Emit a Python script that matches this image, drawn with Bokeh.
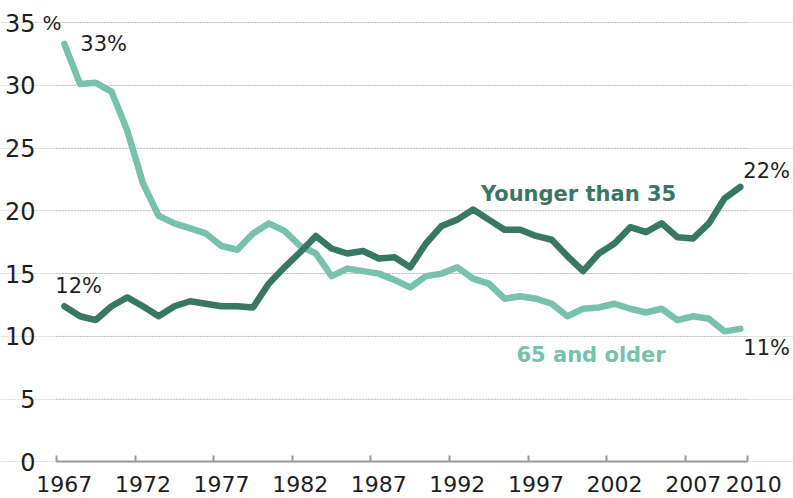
from bokeh.plotting import figure
from bokeh.models import (Range1d, FixedTicker, CustomJSTickFormatter, Label, LabelSet,
                          ColumnDataSource)
from bokeh.core.properties import value
from bokeh.embed import file_html
from bokeh.resources import INLINE

# ---- data ----
years = list(range(1967, 2011))
younger = [12.4, 11.6, 11.3, 12.4, 13.1, 12.4, 11.6, 12.4, 12.8, 12.6, 12.4, 12.4, 12.3,
           14.2, 15.5, 16.7, 18.0, 17.0, 16.6, 16.8, 16.2, 16.3, 15.5,
           17.4, 18.8, 19.3, 20.1, 19.3, 18.5, 18.5, 18.0, 17.7, 16.4,
           15.2, 16.6, 17.4, 18.7, 18.3, 19.0, 17.9, 17.8, 19.0, 21.0, 21.9]
older = [33.3, 30.1, 30.2, 29.5, 26.4, 22.2, 19.6, 19.0, 18.6, 18.2, 17.2, 16.9, 18.2,
         19.0, 18.4, 17.2, 16.6, 14.8, 15.4, 15.2, 15.0, 14.5, 13.9,
         14.8, 15.0, 15.5, 14.6, 14.2, 13.0, 13.2, 13.0, 12.6, 11.6,
         12.2, 12.3, 12.6, 12.2, 11.9, 12.2, 11.3, 11.6, 11.4, 10.4, 10.6]
x_tick_years = [1967, 1972, 1977, 1982, 1987, 1992, 1997, 2002, 2007, 2010]
y_ticks = [0, 5, 10, 15, 20, 25, 30, 35]
series_names = ["Younger than 35", "65 and older"]
start_labels = ["12%", "33%"]
end_labels = ["22%", "11%"]

DARK = "#377764"
LIGHT = "#77c1ad"
TEXT = "#1e1e1e"
AX = "#9a9a9a"
FONT = "DejaVu Sans"

# ---- layout (pixels) ----
W, H = 793, 498
AXIS_START_PX = 56      # canvas x where the year axis starts
PX_PER_YEAR = 15.72
Y0_PX = 460             # canvas y of value 0
Y35_PX = 22             # canvas y of value 35
FRAME_B = H - 1.5       # approx frame bottom (tiny axis panel below)

x0, x1 = years[0] - 0.5, years[-1] + 0.45     # extent of the year axis
xr_start = x0 - AXIS_START_PX / PX_PER_YEAR
xr_end = xr_start + W / PX_PER_YEAR
px_per_unit = (Y0_PX - Y35_PX) / y_ticks[-1]
yr_start = -(FRAME_B - Y0_PX) / px_per_unit
yr_end = y_ticks[-1] + Y35_PX / px_per_unit

p = figure(width=W, height=H, output_backend="svg", toolbar_location=None,
           x_range=Range1d(xr_start, xr_end), y_range=Range1d(yr_start, yr_end),
           y_axis_location=None,
           min_border_left=0, min_border_right=0, min_border_top=0, min_border_bottom=0)
p.outline_line_color = None
p.background_fill_color = "white"
p.border_fill_color = "white"
p.xgrid.visible = False

# dotted grid, limited to the year axis extent
n = len(y_ticks)
p.segment(x0=[x0] * n, y0=y_ticks, x1=[x1] * n, y1=y_ticks,
          line_color="#9e9e9e", line_dash="1 2", line_width=1)

# x axis pinned at value 0: line + inward tick marks at year-band boundaries
tick_marks = [y - 0.5 for y in x_tick_years[:-1]] + [x1]
xa = p.xaxis[0]
xa.fixed_location = 0
xa.bounds = (x0 - 0.01, x1 + 0.01)
xa.ticker = FixedTicker(ticks=tick_marks)
xa.formatter = CustomJSTickFormatter(code="return ''")
xa.major_label_standoff = 0
xa.major_label_text_font_size = "1px"
xa.major_tick_in = 6
xa.major_tick_out = 0
xa.major_tick_line_color = AX
xa.major_tick_line_width = 2
xa.minor_tick_line_color = None
xa.axis_line_color = AX
xa.axis_line_width = 2

# lines
p.line(years, older, line_color=LIGHT, line_width=6.5, line_join="round", line_cap="round")
p.line(years, younger, line_color=DARK, line_width=6.5, line_join="round", line_cap="round")

# tick labels
ylab = ColumnDataSource(dict(x=[x0] * n, y=y_ticks, t=[str(v) for v in y_ticks]))
p.add_layout(LabelSet(source=ylab, x="x", y="y", text="t", x_offset=-21,
                      text_align="right", text_baseline="middle", text_font=value(FONT),
                      text_font_size=value("24px"), text_color=TEXT))
label_pos = x_tick_years[:-1] + [x1 + 0.4]
xlab = ColumnDataSource(dict(x=label_pos, y=[0] * len(label_pos),
                             t=[str(v) for v in x_tick_years]))
p.add_layout(LabelSet(source=xlab, x="x", y="y", text="t", y_offset=-22,
                      text_align="center", text_baseline="middle", text_font=value(FONT),
                      text_font_size=value("22px"), text_color=TEXT))
p.add_layout(Label(x=x0, y=y_ticks[-1], x_offset=-14, text="%", text_align="left",
                   text_baseline="middle", text_font=FONT, text_font_size="20px",
                   text_color=TEXT))

LBL = dict(text_align="left", text_baseline="middle", text_font=FONT,
           text_font_size="21px", text_color=TEXT)

# start / end value labels
p.add_layout(Label(x=years[0], y=younger[0], x_offset=-9, y_offset=20, text=start_labels[0], **LBL))
p.add_layout(Label(x=years[0], y=older[0], x_offset=16, y_offset=0, text=start_labels[1], **LBL))
p.add_layout(Label(x=years[-1], y=younger[-1], x_offset=3, y_offset=16, text=end_labels[0], **LBL))
p.add_layout(Label(x=years[-1], y=older[-1], x_offset=3, y_offset=-19, text=end_labels[1], **LBL))

# series names
p.add_layout(Label(x=1993.5, y=21.36, text=series_names[0], text_align="left",
                   text_baseline="alphabetic", text_font=FONT, text_font_style="bold",
                   text_font_size="21px", text_color=DARK))
p.add_layout(Label(x=1995.76, y=8.48, text=series_names[1], text_align="left",
                   text_baseline="alphabetic", text_font=FONT, text_font_style="bold",
                   text_font_size="21px", text_color=LIGHT))

open("out.html", "w").write(file_html(p, INLINE))
